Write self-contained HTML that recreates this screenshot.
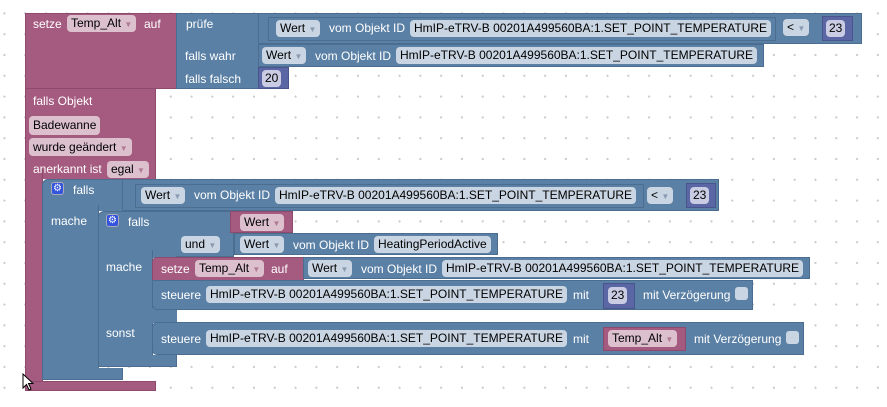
<!DOCTYPE html>
<html><head><meta charset="utf-8"><style>
body{margin:0;width:887px;height:407px;overflow:hidden;background:#fff;
background-image:radial-gradient(circle,#c8c8c8 0.9px,transparent 1.3px);background-size:20.8px 20.8px;background-position:-6px 3px;
font-family:"Liberation Sans",sans-serif;font-size:12px;position:relative}
div{position:absolute;box-sizing:border-box}
.p{background:#a55b80;border:1px solid #8d4a6c}
.b{background:#5b80a5;border:1px solid #4a6d90}
.n{background:#5b67a5;border:1px solid #4a558d}
.t{color:#fff;white-space:nowrap;line-height:14px}
.f{background:#c9d5e2;color:#000;border-radius:4px;white-space:nowrap;line-height:16px;height:17px;padding:0 4px}
.fp{background:#dcc0ce;color:#000;border-radius:4px;white-space:nowrap;line-height:16px;height:17px;padding:0 4px}
.fn{background:#c9cce2;color:#000;border-radius:4px;line-height:16px;height:17px;padding:0 3px}
.a{color:#8a9bb0;font-size:8px}
.ap{color:#b07a95;font-size:8px}
.cb{background:#c9d5e2;border-radius:3px;width:13px;height:13px}
.g{background:#3355dd;border:1px solid #aab;border-radius:3px;width:13px;height:13px;color:#fff;font-size:10px;line-height:11px;text-align:center}
</style></head><body>

<!-- trigger C block -->
<div class="p" style="left:25px;top:88px;width:131px;height:91px;border-bottom:none"></div>
<div class="p" style="left:25px;top:170px;width:18px;height:220px;border-top:none;border-bottom:none"></div>
<div class="p" style="left:25px;top:381px;width:131px;height:10px"></div>
<div class="t" style="left:33px;top:94px">falls Objekt</div>
<div class="fp" style="left:29px;top:116px;height:19px;line-height:19px">Badewanne</div>
<div class="fp" style="left:29px;top:138px;height:18px;line-height:18px">wurde geändert <span class="ap">▼</span></div>
<div class="t" style="left:33px;top:162px">anerkannt ist</div>
<div class="fp" style="left:107px;top:161px">egal <span class="ap">▼</span></div>

<!-- top setze block -->
<div class="p" style="left:25px;top:13px;width:152px;height:76px"></div>
<div class="t" style="left:33px;top:17px">setze</div>
<div class="fp" style="left:67px;top:15px">Temp_Alt <span class="ap">▼</span></div>
<div class="t" style="left:144px;top:17px">auf</div>
<div class="b" style="left:176px;top:13px;width:83px;height:76px"></div>
<div class="t" style="left:186px;top:17px">prüfe</div>
<div class="t" style="left:185px;top:49px">falls wahr</div>
<div class="t" style="left:185px;top:72px">falls falsch</div>
<div class="b" style="left:258px;top:13px;width:604px;height:31px"></div>
<div class="b" style="left:268px;top:17px;width:508px;height:24px"></div>
<div class="f" style="left:276px;top:20px">Wert <span class="a">▼</span></div>
<div class="t" style="left:329px;top:21px">vom Objekt ID</div>
<div class="f" style="left:410px;top:20px">HmIP-eTRV-B 00201A499560BA:1.SET_POINT_TEMPERATURE</div>
<div class="f" style="left:783px;top:19px">&lt; <span class="a">▼</span></div>
<div class="n" style="left:822px;top:16px;width:31px;height:25px"></div>
<div class="fn" style="left:826px;top:20px">23</div>
<div class="b" style="left:258px;top:44px;width:506px;height:23px"></div>
<div class="f" style="left:262px;top:47px">Wert <span class="a">▼</span></div>
<div class="t" style="left:315px;top:49px">vom Objekt ID</div>
<div class="f" style="left:396px;top:47px">HmIP-eTRV-B 00201A499560BA:1.SET_POINT_TEMPERATURE</div>
<div class="n" style="left:258px;top:67px;width:31px;height:22px"></div>
<div class="fn" style="left:262px;top:70px">20</div>

<!-- outer if -->
<div class="b" style="left:42px;top:179px;width:81px;height:32px;border-radius:6px 0 0 0;border-bottom:none"></div>
<div class="b" style="left:42px;top:205px;width:57px;height:170px;border-top:none;border-bottom:none"></div>
<div class="b" style="left:42px;top:368px;width:81px;height:12px;border-top:none"></div>
<div class="g" style="left:51px;top:182px">⚙</div>
<div class="t" style="left:73px;top:183px">falls</div>
<div class="t" style="left:51px;top:214px">mache</div>
<div class="b" style="left:122px;top:179px;width:597px;height:32px"></div>
<div class="b" style="left:135px;top:184px;width:509px;height:24px"></div>
<div class="f" style="left:141px;top:187px">Wert <span class="a">▼</span></div>
<div class="t" style="left:194px;top:188px">vom Objekt ID</div>
<div class="f" style="left:275px;top:187px">HmIP-eTRV-B 00201A499560BA:1.SET_POINT_TEMPERATURE</div>
<div class="f" style="left:647px;top:187px">&lt; <span class="a">▼</span></div>
<div class="n" style="left:686px;top:183px;width:30px;height:25px"></div>
<div class="fn" style="left:690px;top:187px">23</div>

<!-- inner if -->
<div class="b" style="left:98px;top:211px;width:79px;height:47px;border-radius:6px 0 0 0;border-bottom:none"></div>
<div class="b" style="left:98px;top:250px;width:55px;height:110px;border-top:none;border-bottom:none"></div>
<div class="b" style="left:98px;top:355px;width:79px;height:12px;border-top:none"></div>
<div class="b" style="left:152px;top:308px;width:25px;height:15px;border:none"></div>
<div class="g" style="left:106px;top:214px">⚙</div>
<div class="t" style="left:128px;top:215px">falls</div>
<div class="t" style="left:106px;top:260px">mache</div>
<div class="t" style="left:106px;top:326px">sonst</div>
<div class="b" style="left:176px;top:211px;width:58px;height:46px;border-left:none"></div>
<div class="f" style="left:181px;top:236px">und <span class="a">▼</span></div>
<div class="p" style="left:230px;top:211px;width:63px;height:22px"></div>
<div class="fp" style="left:240px;top:214px">Wert <span class="ap">▼</span></div>
<div class="b" style="left:234px;top:233px;width:264px;height:22px"></div>
<div class="f" style="left:240px;top:236px">Wert <span class="a">▼</span></div>
<div class="t" style="left:293px;top:238px">vom Objekt ID</div>
<div class="f" style="left:374px;top:236px">HeatingPeriodActive</div>

<!-- setze in if -->
<div class="p" style="left:152px;top:257px;width:152px;height:24px;border-radius:5px 0 0 0"></div>
<div class="t" style="left:161px;top:262px">setze</div>
<div class="fp" style="left:195px;top:260px">Temp_Alt <span class="ap">▼</span></div>
<div class="t" style="left:271px;top:262px">auf</div>
<div class="b" style="left:303px;top:257px;width:507px;height:22px"></div>
<div class="f" style="left:308px;top:260px">Wert <span class="a">▼</span></div>
<div class="t" style="left:361px;top:262px">vom Objekt ID</div>
<div class="f" style="left:442px;top:260px">HmIP-eTRV-B 00201A499560BA:1.SET_POINT_TEMPERATURE</div>

<div class="b" style="left:152px;top:280px;width:601px;height:30px;border-radius:0 0 0 5px"></div>
<div class="t" style="left:161px;top:288px">steuere</div>
<div class="f" style="left:206px;top:286px">HmIP-eTRV-B 00201A499560BA:1.SET_POINT_TEMPERATURE</div>
<div class="t" style="left:573px;top:288px">mit</div>
<div class="n" style="left:603px;top:283px;width:32px;height:26px"></div>
<div class="fn" style="left:608px;top:287px">23</div>
<div class="t" style="left:643px;top:288px">mit Verzögerung</div>
<div class="cb" style="left:735px;top:287px"></div>

<div class="b" style="left:152px;top:322px;width:652px;height:33px;border-radius:5px 0 0 5px"></div>
<div class="t" style="left:161px;top:332px">steuere</div>
<div class="f" style="left:206px;top:330px">HmIP-eTRV-B 00201A499560BA:1.SET_POINT_TEMPERATURE</div>
<div class="t" style="left:573px;top:332px">mit</div>
<div class="p" style="left:603px;top:327px;width:83px;height:24px"></div>
<div class="fp" style="left:608px;top:330px">Temp_Alt <span class="ap">▼</span></div>
<div class="t" style="left:694px;top:332px">mit Verzögerung</div>
<div class="cb" style="left:786px;top:331px"></div>

<svg style="position:absolute;left:22px;top:373px" width="14" height="20"><path d="M1 1 L1 15 L4.5 11.5 L7 17 L9 16 L6.5 10.5 L11 10.5 Z" fill="#fff" stroke="#000" stroke-width="1"/></svg>
</body></html>
